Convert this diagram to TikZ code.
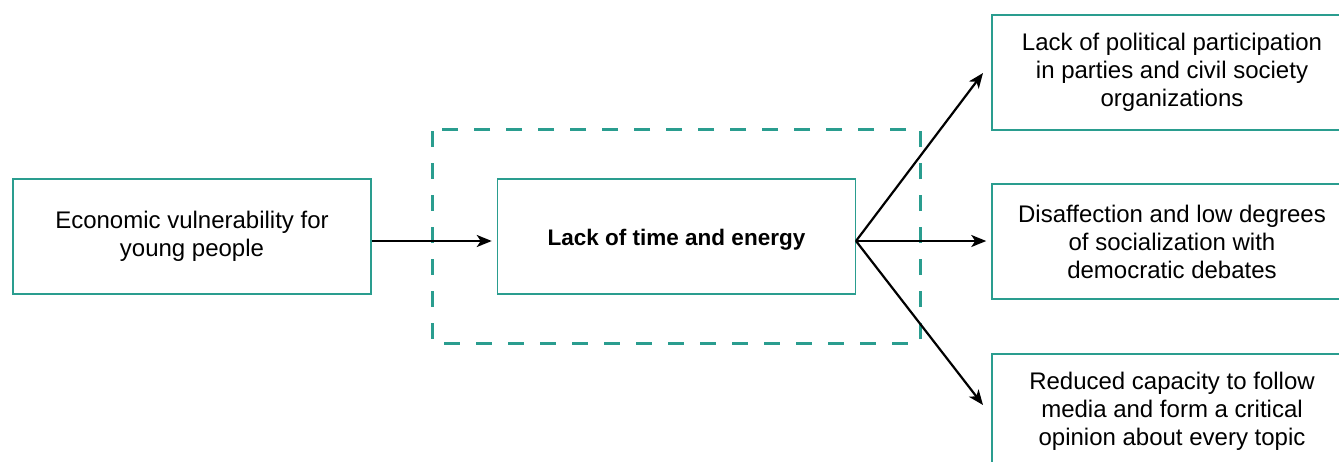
\documentclass[tikz,border=0pt]{standalone}
\usepackage{fontspec}
\setmainfont{Liberation Sans}
\usetikzlibrary{arrows.meta}
\definecolor{teal1}{RGB}{42,157,143}
\begin{document}
\begin{tikzpicture}[x=1pt,y=-1pt,
  box/.style={draw=teal1,line width=1.5pt,rectangle,minimum width=358pt,minimum height=115pt,inner sep=0pt,align=center,font=\fontsize{24}{28}\selectfont,text=black},
  arr/.style={line width=2.2pt,-{Stealth[length=15pt,width=12pt,inset=4pt]}}]
\useasboundingbox (0,0) rectangle (1339,461);
\clip (0,0) rectangle (1339,461);
\node[box] (econ) at (192,236.5) {Economic vulnerability for\\young people};
\draw[teal1,line width=3pt,dash pattern=on 16pt off 16pt,dash phase=-2pt] (432,129) rectangle (920,343);
\node[box,font=\fontsize{22.5}{28}\selectfont\bfseries,text height=22pt,text depth=4pt] (lack) at (676.5,236.5) {Lack of time and energy};
\node[box,minimum width=360pt] (pol) at (1172,72.5) {Lack of political participation\\in parties and civil society\\organizations};
\node[box,minimum width=360pt] (dis) at (1172,241.5) {Disaffection and low degrees\\of socialization with\\democratic debates};
\node[box,minimum width=360pt] (red) at (1172,411.5) {Reduced capacity to follow\\media and form a critical\\opinion about every topic};
\coordinate (src) at (856,241);
\draw[arr] (econ.east |- src) -- ([xshift=-5pt]lack.west |- src);
\draw[arr] (src) -- (983,73);
\draw[arr] (src) -- ([xshift=-5pt]dis.west |- src);
\draw[arr] (src) -- (983,405);
\end{tikzpicture}
\end{document}
